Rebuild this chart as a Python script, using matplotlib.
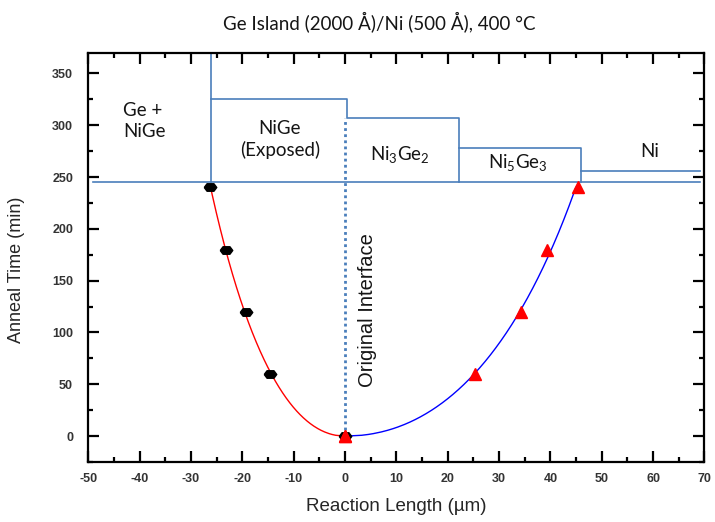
import numpy as np
import matplotlib
matplotlib.use("Agg")
import matplotlib.pyplot as plt
from matplotlib.ticker import MultipleLocator

# ---- data -------------------------------------------------------------
anneal_time = [0, 60, 120, 180, 240]                 # min
ge_side_length = [0, -14.6, -19.3, -23.2, -26.3]     # um, NiGe front into Ge
ni_side_length = [0, 25.3, 34.3, 39.3, 45.4]         # um, front into Ni

x_ticks = list(range(-50, 71, 10))
y_ticks = list(range(0, 351, 50))

# phase boundaries (x in um, y in min)
boundary_time = 245
ge_nige_edge = -26.2
nige_top, nige_right = 325, 0.3
ni3ge2_top, ni3ge2_right = 307, 22.2
ni5ge3_top, ni5ge3_right = 278, 45.9
ni_top = 256

plt.rcParams['font.family'] = ['Lato', 'DejaVu Sans']
plt.rcParams['mathtext.fontset'] = 'custom'
plt.rcParams['mathtext.rm'] = 'Lato'
plt.rcParams['mathtext.it'] = 'Lato:italic'
plt.rcParams['axes.unicode_minus'] = False

fig = plt.figure(figsize=(7.15, 5.22), dpi=100)
ax = fig.add_axes([0.1235, 0.1149, 0.8618, 0.7841])

XMIN, XMAX, YMIN, YMAX = -50, 70, -25, 370
ax.set_xlim(XMIN, XMAX)
ax.set_ylim(YMIN, YMAX)

line_blue = '#4A7EBB'
lw_b = 1.2

# phase region outlines
ax.plot([-49, 69.2], [boundary_time, boundary_time], color=line_blue, lw=lw_b)
ax.plot([ge_nige_edge, ge_nige_edge], [boundary_time, YMAX], color=line_blue, lw=lw_b)
ax.plot([ge_nige_edge, nige_right, nige_right, ni3ge2_right, ni3ge2_right],
        [nige_top, nige_top, ni3ge2_top, ni3ge2_top, boundary_time],
        color=line_blue, lw=lw_b)
ax.plot([ni3ge2_right, ni5ge3_right, ni5ge3_right],
        [ni5ge3_top, ni5ge3_top, boundary_time], color=line_blue, lw=lw_b)
ax.plot([ni5ge3_right, 69.2], [ni_top, ni_top], color=line_blue, lw=lw_b)

# original interface
ax.plot([0, 0], [0, ni3ge2_top], color=line_blue, lw=2.0, ls=(0, (1, 1.2)))

# growth fronts: second-order fit of length against sqrt(time)
t = np.asarray(anneal_time, float)
t_fine = np.linspace(0, t.max(), 300)
for xs, col in ((ge_side_length, '#FF0000'), (ni_side_length, '#0000FF')):
    coef = np.polyfit(np.sqrt(t), np.asarray(xs, float), 2)
    ax.plot(np.polyval(coef, np.sqrt(t_fine)), t_fine, color=col, lw=1.0, zorder=3)

# wide flat hexagon marker
hex_wide = [(-1, 0), (-0.55, 0.6), (0.55, 0.6), (1, 0), (0.55, -0.6), (-0.55, -0.6), (-1, 0)]
ax.plot(ge_side_length, anneal_time, ls='none', marker=hex_wide, ms=9,
        mfc='black', mec='black', zorder=4)
ax.plot(ni_side_length, anneal_time, ls='none', marker='^', ms=8.5,
        mfc='#FF0000', mec='#FF0000', zorder=5)
ax.plot([0], [0], ls='none', marker='^', ms=8.5, mfc='#FF0000', mec='#FF0000', zorder=5)

# region labels
txt = dict(fontsize=13.5, color='#151515', family=['Lato', 'DejaVu Sans'])
ax.text(-43.2, 304, 'Ge +\nNiGe', ha='left', va='center', linespacing=1.25, **txt)
ax.text(-12.7, 286, 'NiGe\n(Exposed)', ha='center', va='center', linespacing=1.25, **txt)
ax.text(10.7, 272, r'Ni$_3$Ge$_2$', ha='center', va='center', **txt)
ax.text(33.7, 264, r'Ni$_5$Ge$_3$', ha='center', va='center', **txt)
ax.text(59.4, 275, 'Ni', ha='center', va='center', **txt)
ax.text(4.3, 122, 'Original Interface', rotation=90, ha='center', va='center',
        fontsize=14.5, color='#151515', family=['Liberation Sans', 'DejaVu Sans'])

# axes styling
for sp in ax.spines.values():
    sp.set_linewidth(1.6)
    sp.set_color('black')
ax.set_xticks(x_ticks)
ax.set_yticks(y_ticks)
ax.xaxis.set_minor_locator(MultipleLocator(5))
ax.yaxis.set_minor_locator(MultipleLocator(25))
ax.tick_params(which='both', direction='in', top=True, right=True, width=1.6,
               colors='black')
ax.tick_params(which='major', length=8)
ax.tick_params(which='minor', length=3.8)
ax.tick_params(axis='y', which='major', pad=11)
ax.tick_params(axis='x', which='major', pad=8)
for lab in ax.get_xticklabels() + ax.get_yticklabels():
    lab.set_fontfamily(['Liberation Sans', 'DejaVu Sans'])
    lab.set_fontweight('bold')
    lab.set_fontsize(9)
    lab.set_color('#333333')

ax.set_xlabel('Reaction Length (\u00b5m)', fontsize=13.5,
              family=['Liberation Sans', 'DejaVu Sans'], color='#262626')
ax.set_ylabel('Anneal Time (min)', fontsize=13,
              family=['Liberation Sans', 'DejaVu Sans'], color='#262626')
ax.xaxis.set_label_coords(0.5, -0.088)
ax.yaxis.set_label_coords(-0.102, 0.469)

fig.text(379 / 715, 1 - 22 / 522, 'Ge Island (2000 \u00c5)/Ni (500 \u00c5), 400 \u00b0C',
         ha='center', va='center', fontsize=13.5, color='#151515')

fig.savefig('out.png', dpi=100)
